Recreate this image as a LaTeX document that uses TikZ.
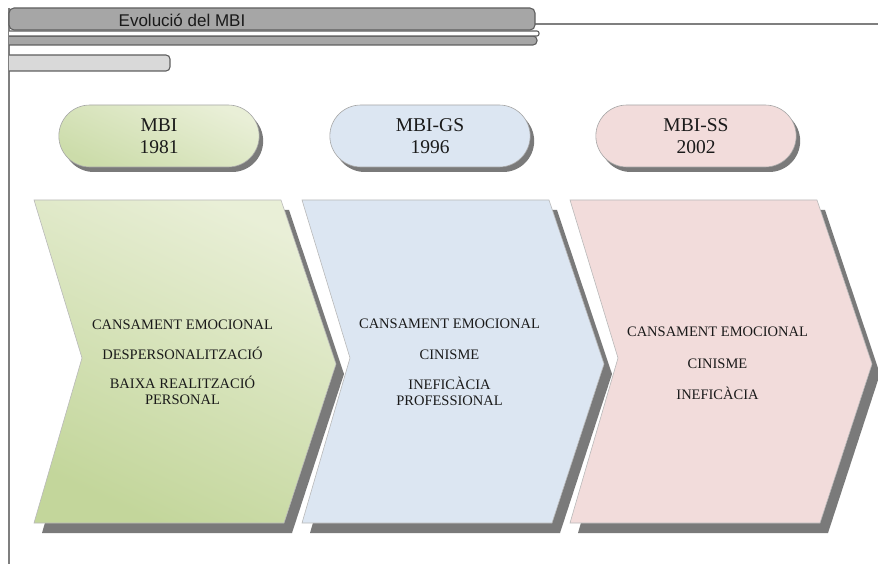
\documentclass[tikz,border=0pt]{standalone}
\usepackage{fontspec}
\setmainfont{Liberation Serif}
\newfontfamily\headfont{Liberation Sans}
\usetikzlibrary{shapes.misc,shadows}

\definecolor{framegray}{HTML}{7F7F7F}
\definecolor{tabgray}{HTML}{A6A6A6}
\definecolor{tabedge}{HTML}{5F5F5F}
\definecolor{barfill}{HTML}{D9D9D9}
\definecolor{shadowgray}{HTML}{7A7A7A}
\definecolor{greenlight}{HTML}{E9EFD7}
\definecolor{greendark}{HTML}{C3D69B}
\definecolor{bluefill}{HTML}{DCE6F2}
\definecolor{pinkfill}{HTML}{F2DCDB}
\definecolor{inktext}{HTML}{1A1A1A}

% chevron outline, left edge at x = 0
\newcommand\chevronoutline{(0,200) -- (247,200) -- (302,364) -- (250,523) -- (0,523) -- (48,358) -- cycle}

\tikzset{
  pill/.style={rounded rectangle, minimum width=207pt, minimum height=62pt,
    draw=gray!70, line width=0.6pt, align=center, text=inktext,
    font=\fontsize{19.5}{22}\selectfont,
    general shadow={fill=shadowgray, shadow xshift=4pt, shadow yshift=-5pt}},
  chevronbody/.style={draw=gray!55, line width=0.6pt},
  chevronshadow/.style={fill=shadowgray},
  itemtext/.style={anchor=base, text=inktext, inner sep=0pt,
    font=\fontsize{14.5}{16}\selectfont},
  tabpart/.style={draw=tabedge, line width=1.1pt},
}

\begin{document}
\begin{tikzpicture}[x=1pt, y=-1pt]
\useasboundingbox (0,0) rectangle (878,564);

% frame: left rule and header rule
\draw[framegray, line width=1.6pt] (9,8) -- (9,564);
\draw[framegray, line width=1.6pt] (535,24) -- (878,24);

% header tab with its two strips underneath
\draw[tabpart, fill=tabgray, rounded corners=5pt] (9,30) -- (9,8) -- (535,8) -- (535,30) -- cycle;
\draw[tabpart, fill=tabgray, rounded corners=4pt] (9,36) -- (537,36) -- (537,45) -- (9,45);
\draw[tabpart, fill=white, rounded corners=2pt] (9,31) -- (539,31) -- (539,36) -- (9,36);
\node[font=\headfont\fontsize{17}{20}\selectfont, text=inktext, anchor=base, inner sep=0pt]
  (title) at (182,27) {Evolució del MBI};

% small bar
\draw[tabpart, fill=barfill, rounded corners=4pt] (9,55) -- (170,55) -- (170,71) -- (9,71);

% chevrons: shadow first, then body
\begin{scope}[shift={(42,10)}] \fill[chevronshadow] \chevronoutline; \end{scope}
\begin{scope}[shift={(34,0)}]
  \path[chevronbody, top color=greenlight, bottom color=greendark, shading angle=-25] \chevronoutline;
\end{scope}
\begin{scope}[shift={(310,10)}] \fill[chevronshadow] \chevronoutline; \end{scope}
\begin{scope}[shift={(302,0)}] \path[chevronbody, fill=bluefill] \chevronoutline; \end{scope}
\begin{scope}[shift={(578,10)}] \fill[chevronshadow] \chevronoutline; \end{scope}
\begin{scope}[shift={(570,0)}] \path[chevronbody, fill=pinkfill] \chevronoutline; \end{scope}

% year labels
\node[pill, top color=greenlight, bottom color=greendark!85, shading angle=-25] (mbi) at (159,136) {MBI\\1981};
\node[pill, fill=bluefill] (mbigs) at (430,136) {MBI-GS\\1996};
\node[pill, fill=pinkfill] (mbiss) at (696,136) {MBI-SS\\2002};

% dimensions per version
\node[itemtext] (g1) at (182.5,329) {CANSAMENT EMOCIONAL};
\node[itemtext] (g2) at (182.5,359) {DESPERSONALITZACIÓ};
\node[itemtext] (g3) at (182.5,388) {BAIXA REALITZACIÓ};
\node[itemtext] (g4) at (182.5,404) {PERSONAL};

\node[itemtext] (b1) at (449.5,328) {CANSAMENT EMOCIONAL};
\node[itemtext] (b2) at (449.5,359) {CINISME};
\node[itemtext] (b3) at (449.5,389) {INEFICÀCIA};
\node[itemtext] (b4) at (449.5,405) {PROFESSIONAL};

\node[itemtext] (r1) at (717.5,336) {CANSAMENT EMOCIONAL};
\node[itemtext] (r2) at (717.5,368) {CINISME};
\node[itemtext] (r3) at (717.5,399) {INEFICÀCIA};
\end{tikzpicture}
\end{document}
